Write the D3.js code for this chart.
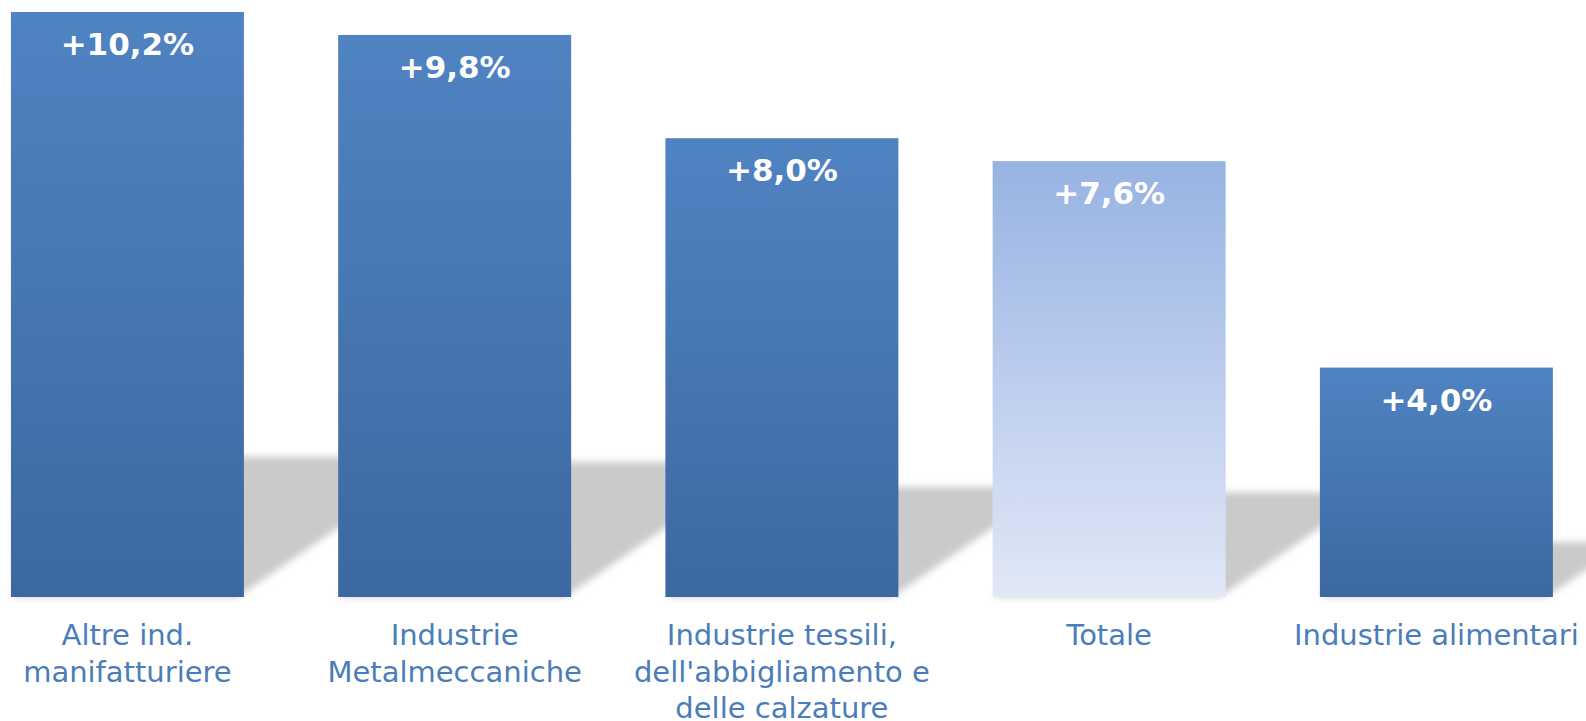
<!DOCTYPE html>
<html>
<head>
<meta charset="utf-8">
<script src="https://cdn.jsdelivr.net/npm/d3@7"></script>
<style>
body { margin: 0; background: #fff; }
.value { font-family: "DejaVu Sans", Verdana, sans-serif; font-weight: bold; font-size: 31px; fill: #fff; }
.cat { font-family: "DejaVu Sans", Verdana, sans-serif; font-size: 29px; fill: #4a7dba; }
</style>
</head>
<body>
<script>
const width = 1586, height = 721;
const base = 597, top0 = 12;

const categories = ["Altre ind. manifatturiere", "Industrie Metalmeccaniche",
    "Industrie tessili, dell'abbigliamento e delle calzature", "Totale", "Industrie alimentari"];
const categoryLines = [["Altre ind.", "manifatturiere"], ["Industrie", "Metalmeccaniche"],
    ["Industrie tessili,", "dell'abbigliamento e", "delle calzature"], ["Totale"], ["Industrie alimentari"]];
const values = [10.2, 9.8, 8.0, 7.6, 4.0];
const valueLabels = ["+10,2%", "+9,8%", "+8,0%", "+7,6%", "+4,0%"];
const highlight = "Totale";

const data = categories.map((c, i) => ({cat: c, v: values[i], label: valueLabels[i], lines: categoryLines[i]}));

const svg = d3.select("body").append("svg")
.attr("width", width)
.attr("height", height);

const defs = svg.append("defs");

const gBlue = defs.append("linearGradient")
.attr("id", "blue").attr("x1", 0).attr("y1", 0).attr("x2", 0).attr("y2", 1);
gBlue.append("stop").attr("offset", "0%").attr("stop-color", "#5083c2");
gBlue.append("stop").attr("offset", "100%").attr("stop-color", "#3c68a2");

const gLight = defs.append("linearGradient")
.attr("id", "light").attr("x1", 0).attr("y1", 0).attr("x2", 0).attr("y2", 1);
gLight.append("stop").attr("offset", "0%").attr("stop-color", "#97b3e2");
gLight.append("stop").attr("offset", "50%").attr("stop-color", "#bccdee");
gLight.append("stop").attr("offset", "100%").attr("stop-color", "#e1e8f6");

defs.append("filter").attr("id", "blur")
.attr("x", "-20%").attr("y", "-20%").attr("width", "140%").attr("height", "140%")
.append("feGaussianBlur").attr("stdDeviation", 3.5);

const scaleX = d3.scaleBand()
.domain(categories)
.range([-36.2, 1600])
.paddingInner(0.288)
.paddingOuter(0.144);

const scaleY = d3.scaleLinear()
.domain([0, 10.2])
.range([base, top0]);

// perspective shadows behind the bars
svg.append("g")
.attr("filter", "url(#blur)")
.selectAll(".shadow")
.data(data)
.enter()
.append("path")
.attr("class", "shadow")
.attr("fill", "#cacaca")
.attr("d", (d) => {
    const x0 = scaleX(d.cat), x1 = x0 + scaleX.bandwidth();
    const sh = (base - scaleY(d.v)) * 0.24;
    const dx = sh * 1.45;
    return `M${x0},${base}L${x1 - 6},${base}L${x1 - 6 + dx},${base - sh}L${x0 + dx},${base - sh}Z`;
});

svg.selectAll(".bar")
.data(data)
.enter()
.append("rect")
.attr("class", "bar")
.attr("x", (d) => scaleX(d.cat))
.attr("y", (d) => scaleY(d.v))
.attr("width", scaleX.bandwidth())
.attr("height", (d) => base - scaleY(d.v))
.attr("fill", (d) => d.cat === highlight ? "url(#light)" : "url(#blue)");

svg.selectAll(".value")
.data(data)
.enter()
.append("text")
.attr("class", "value")
.attr("text-anchor", "middle")
.attr("x", (d) => scaleX(d.cat) + scaleX.bandwidth() / 2)
.attr("y", (d) => scaleY(d.v) + 43)
.text((d) => d.label);

const cats = svg.selectAll(".cat")
.data(data)
.enter()
.append("text")
.attr("class", "cat")
.attr("text-anchor", "middle")
.attr("y", 645);

cats.selectAll("tspan")
.data((d) => d.lines.map((l) => ({l, x: scaleX(d.cat) + scaleX.bandwidth() / 2})))
.enter()
.append("tspan")
.attr("x", (t) => t.x)
.attr("dy", (t, i) => i === 0 ? 0 : 36.5)
.text((t) => t.l);
</script>
</body>
</html>
